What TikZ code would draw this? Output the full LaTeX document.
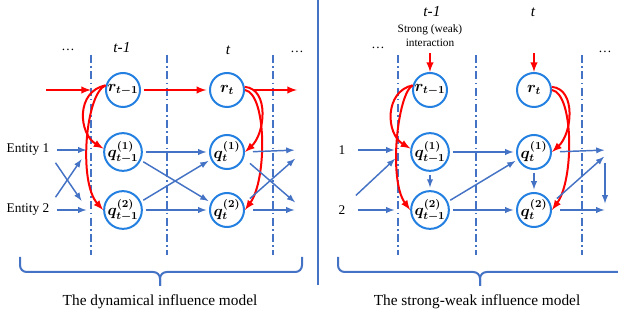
\documentclass[tikz,border=0pt]{standalone}
\usepackage{amsmath}
\usepackage{amssymb}
\usepackage{bm}
\usepackage{fontspec}
\setmainfont{Liberation Serif}
\usetikzlibrary{arrows,calc}

\definecolor{circblue}{RGB}{36,128,224}
\definecolor{lineblue}{RGB}{68,114,196}
\definecolor{flowred}{RGB}{255,0,0}

\begin{document}
\begin{tikzpicture}[x=0.75pt,y=-0.75pt]
\tikzstyle{main}=[circle, minimum size=25.5pt, inner sep=0pt, line width=1.5pt, draw=circblue, font=\fontsize{12}{13}\selectfont]
\tikzstyle{slice}=[lineblue, line width=1.2pt, dash pattern=on 6pt off 2.5pt on 1.2pt off 2.5pt]
\tikzstyle{connect}=[-latex, line width=1.1pt, draw=lineblue, shorten <=2pt, shorten >=2pt]
\tikzstyle{inter}=[-latex, line width=1.5pt, draw=flowred]
\tikzstyle{label}=[font=\fontsize{11.5}{13}\selectfont\itshape]
\tikzstyle{caption}=[font=\fontsize{11.5}{13}\selectfont]
\tikzstyle{brace}=[line width=1.5pt, draw=lineblue, rounded corners=5pt]

\useasboundingbox (0,0) rectangle (618,320);

  % dynamical influence model
  \node[main] (rA)  at (123,90)  {$\bm{r_{t-1}}$};
  \node[main] (qA1) at (123,152) {$\bm{q^{(1)}_{t-1}}$};
  \node[main] (qA2) at (123,210) {$\bm{q^{(2)}_{t-1}}$};
  \node[main] (rB)  at (227,90)  {$\bm{r_t}$};
  \node[main] (qB1) at (227,152) {$\bm{q^{(1)}_t}$};
  \node[main] (qB2) at (227,210) {$\bm{q^{(2)}_t}$};

  \node[label] (tA) at (122,48) {t-1};
  \node[label] (tB) at (228,50) {t};
  \node (dA1) at (68,50) {\dots};
  \node (dA2) at (297,52) {\dots};
  \node (eA1) at (28,150) {Entity 1};
  \node (eA2) at (28,210) {Entity 2};

  \draw[slice] (91,55) -- (91,255);
  \draw[slice] (167,55) -- (167,255);
  \draw[slice] (273,55) -- (273,255);

  \coordinate (inA)  at (46,90);
  \coordinate (slA)  at (91,90);
  \coordinate (outA) at (297,90);
  \coordinate (inA1) at (89,150);
  \coordinate (inA2) at (89,210);
  \coordinate (xA1)  at (83,157);
  \coordinate (xA2)  at (83,203);
  \coordinate (oA1)  at (297,150);
  \coordinate (oA2)  at (297,210);
  \coordinate (oxA1) at (297,157);
  \coordinate (oxA2) at (297,204);

  \draw[inter] (inA) -- (slA);
  \draw[inter, shorten <=2pt, shorten >=2pt] (rA) -- (rB);
  \draw[inter, shorten <=6pt] (rB.east) -- (outA);
  \draw[inter] (rA.165) .. controls +(-30,6) and +(-25,-15) .. (qA1.170);
  \draw[inter] (rA.165) .. controls +(-20,8) and +(-25,-28) .. (qA2.west);
  \draw[inter] (rB.10) .. controls +(25,2) and +(20,-18) .. (qB1.east);
  \draw[inter] (rB.0) .. controls +(22,4) and +(22,-30) .. (qB2.east);

  \draw[connect] (eA1.east) -- (inA1);
  \draw[connect] (eA2.east) -- (inA2);
  \draw[connect] (eA1.south east) -- (xA2);
  \draw[connect] (eA2.north east) -- (xA1);
  \draw[connect] (qA1) -- (qB1);
  \draw[connect] (qA2) -- (qB2);
  \draw[connect] (qA1.-25) -- (qB2.155);
  \draw[connect] (qA2.25) -- (qB1.-155);
  \draw[connect, shorten <=6pt] (qB1.east) -- (oA1);
  \draw[connect, shorten <=6pt] (qB1.-20) -- (oxA2);
  \draw[connect, shorten <=6pt] (qB2.20) -- (oxA1);
  \draw[connect, shorten <=6pt] (qB2.east) -- (oA2);

  \draw[brace] (20,257) -- (20,272) -- (160,272) -- (160,286);
  \draw[brace] (302,257) -- (302,272) -- (160,272) -- (160,286);
  \node[caption] (capA) at (160,302) {The dynamical influence model};

  \draw[lineblue, line width=1.5pt] (318,0) -- (318,285);

  % strong-weak influence model
  \node[main] (rC)  at (430,90)  {$\bm{r_{t-1}}$};
  \node[main] (qC1) at (430,152) {$\bm{q^{(1)}_{t-1}}$};
  \node[main] (qC2) at (430,210) {$\bm{q^{(2)}_{t-1}}$};
  \node[main] (rD)  at (534,90)  {$\bm{r_t}$};
  \node[main] (qD1) at (534,152) {$\bm{q^{(1)}_t}$};
  \node[main] (qD2) at (534,210) {$\bm{q^{(2)}_t}$};

  \node[label] (tC) at (432,12) {t-1};
  \node[label] (tD) at (533,12) {t};
  \node[align=center, font=\fontsize{8.5}{10.5}\selectfont] (sw) at (430,36) {Strong (weak)\\interaction};
  \node (dC1) at (378,48) {\dots};
  \node (dC2) at (605,52) {\dots};
  \node (eC1) at (342,150) {1};
  \node (eC2) at (342,210) {2};

  \draw[slice] (398,55) -- (398,255);
  \draw[slice] (476,55) -- (476,255);
  \draw[slice] (582,55) -- (582,255);

  \coordinate (topC) at (430,53);
  \coordinate (topD) at (534,53);
  \coordinate (inC1) at (397,150);
  \coordinate (inC2) at (397,210);
  \coordinate (xC1)  at (397,157);
  \coordinate (oC1)  at (607,150);
  \coordinate (oC2)  at (607,210);
  \coordinate (oxC1) at (606,155);
  \coordinate (vC1)  at (605,160);
  \coordinate (vC2)  at (605,206);

  \draw[inter] (topC) -- (rC);
  \draw[inter] (topD) -- (rD);
  \draw[inter] (rC.165) .. controls +(-28,6) and +(-25,-15) .. (qC1.170);
  \draw[inter] (rC.165) .. controls +(-15,8) and +(-22,-30) .. (qC2.west);
  \draw[inter] (rD.10) .. controls +(25,2) and +(20,-18) .. (qD1.east);
  \draw[inter] (rD.0) .. controls +(22,4) and +(22,-30) .. (qD2.east);

  \draw[connect, shorten <=6pt] (eC1.east) -- (inC1);
  \draw[connect, shorten <=6pt] (eC2.east) -- (inC2);
  \draw[connect, shorten <=6pt] (eC2.north east) -- (xC1);
  \draw[connect] (qC1) -- (qC2);
  \draw[connect] (qD1) -- (qD2);
  \draw[connect] (qC1) -- (qD1);
  \draw[connect] (qC2) -- (qD2);
  \draw[connect] (qC2.25) -- (qD1.-155);
  \draw[connect, shorten <=6pt] (qD1.east) -- (oC1);
  \draw[connect, shorten <=6pt] (qD2.20) -- (oxC1);
  \draw[connect, shorten <=6pt] (qD2.east) -- (oC2);
  \draw[connect] (vC1) -- (vC2);

  \draw[brace] (338,257) -- (338,272) -- (480,272) -- (480,286);
  \draw[brace] (625,257) -- (625,272) -- (480,272) -- (480,286);
  \node[caption] (capC) at (477,302) {The strong-weak influence model};

\end{tikzpicture}
\end{document}
